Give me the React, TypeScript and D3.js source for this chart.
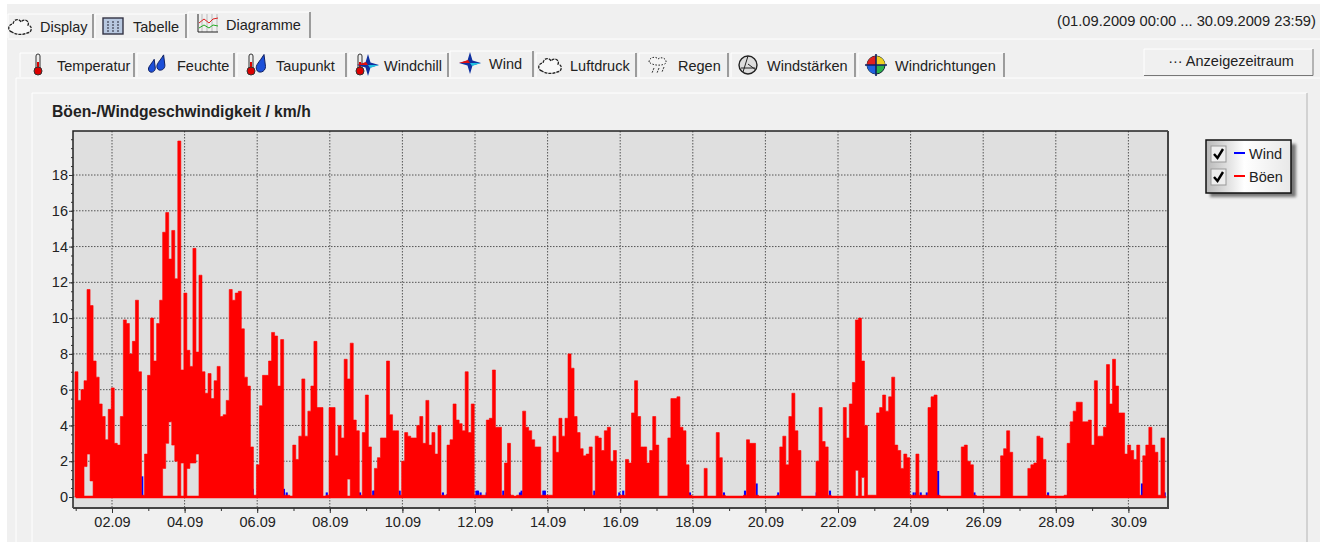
import React, { useEffect, useRef } from 'react';
import * as d3 from 'd3';

// gust per 2 hour block, one row per day of September 2009
const boeen: number[] = [
  7, 5.4, 6, 6.5, 11.6, 10.7, 7.6, 6.7, 5.2, 4.5, 3.2, 4.9,
  6.1, 3, 2.9, 4.5, 9.9, 9.7, 8, 8.7, 11, 7, 0.1, 2.4,
  6.8, 10, 7.6, 9.7, 11, 14.8, 15.9, 13.3, 14.9, 12.2, 19.9, 7.1,
  11.4, 8.2, 7.3, 13.9, 8.1, 12.4, 7, 5.8, 6.9, 5.5, 6.5, 7.3,
  4.5, 4.6, 5.4, 11.6, 11, 11.4, 11.5, 9.4, 6.7, 6.2, 2.8, 0.1,
  1.8, 5.1, 6.8, 6.8, 7.6, 9.2, 9, 6.2, 8.8, 0.1, 0.1, 0,
  2.9, 2.1, 3.4, 6.6, 3.4, 4.8, 6.2, 8.7, 5, 5, 0, 0.1,
  5, 5, 2.3, 4, 3.3, 7.7, 6.6, 8.6, 4.3, 3.7, 0.1, 3.6,
  5.7, 2.8, 0.1, 1.6, 2.2, 3.3, 3.3, 7.6, 4.6, 3.7, 3.7, 0.1,
  2, 3.6, 3.4, 3.3, 3.3, 4, 4.5, 3, 5.4, 2.9, 3.6, 2.4,
  4, 0.1, 0.1, 2.9, 3.2, 5.2, 4.3, 4.1, 3.7, 7, 3.6, 5.2,
  0.1, 0.1, 0.1, 0.1, 4.3, 4.4, 7.1, 3.9, 3.9, 0.1, 1.9, 3,
  0.1, 0, 0.1, 0.1, 4.8, 3.9, 3.7, 3.2, 2.8, 2.8, 0.1, 0.1,
  0.1, 0.1, 3.4, 2.5, 4.4, 3.4, 4.4, 8, 7.2, 4.5, 3.6, 2.7,
  2.3, 2.4, 2.8, 0.1, 3.4, 3.3, 2.6, 3.7, 3.9, 2, 2.6, 0,
  0.1, 0.1, 2.1, 1.9, 4.7, 6.5, 4.5, 2.8, 2.8, 1.9, 2.6, 4.5,
  2.9, 0, 0, 0, 3.3, 5.5, 5.5, 5.6, 3.9, 3.7, 1.8, 0.1,
  0, 0, 0, 0, 1.6, 0, 0, 0, 3.6, 2.2, 0.1, 0,
  0, 0, 0, 0, 0, 0.1, 3.2, 3, 3, 0.1, 0, 0,
  0, 0, 0, 0, 0.1, 2.8, 3.4, 1.8, 4.5, 5.8, 3.7, 2.6,
  0, 0, 0, 0, 0, 2, 5, 3.1, 2.8, 0.1, 0, 0,
  0, 0, 5, 3.3, 5.2, 6.4, 9.9, 10, 7.6, 4, 0.1, 0.1,
  0.1, 4.7, 5, 5.7, 4.8, 5.6, 6.7, 2.9, 2.6, 1.6, 2.4, 2.2,
  0.1, 0.1, 2.4, 0.1, 0.1, 0.1, 5, 5.6, 5.7, 0.1, 0, 0,
  0, 0, 0, 0, 0, 2.8, 2.9, 2, 1.8, 0.1, 0, 0,
  0, 0, 0, 0, 0, 0, 2.3, 2.7, 3.7, 2.5, 0, 0,
  0, 0, 0, 1.6, 1.8, 1.9, 3.4, 3.3, 2.1, 0.1, 0, 0,
  0, 0, 0, 0.1, 3, 4.2, 4.8, 5.3, 5.3, 4.2, 4.2, 4.3,
  2.9, 6.5, 3.4, 3.4, 3.9, 7.4, 5.2, 7.7, 6.2, 4.7, 4.7, 2.4,
  2.9, 2.6, 2.1, 2.9, 0.1, 2.3, 2.9, 3.9, 2.9, 2.5, 0.1, 3.3,
];

// blocks where the red column does not reach the zero line: [block, lower value]
const boeenUnten: [number, number][] = [
  [3, 1.7], [4, 2.4], [5, 0.9], [29, 1.6], [30, 3], [31, 4.2], [32, 2.9], [33, 2],
  [35, 1.9], [37, 1.6], [38, 1.9], [39, 1.9], [40, 2.4], [90, 1], [258, 1.5], [260, 1.1],
];

// wind shows only where it sticks out of the gust columns: [hour, low, high]
const wind: [number, number, number][] = [
  [10.8, 2.3, 2.5], [11.7, 0.9, 1.7], [44, 0, 1.1], [62, 4.2, 4.7], [71.8, 2, 2.7], [79.3, 2.4, 3],
  [117, 0, 0.4], [137.7, 0, 0.4], [139.5, 0, 0.2], [147.6, 0, 0.4], [162.8, 0, 0.4], [166, 0, 0.2],
  [173.8, 0, 0.4], [181.8, 1, 1.7], [188, 0, 0.2], [196.7, 0, 0.3], [197.5, 0, 0.3], [214.2, 0, 0.3],
  [237.5, 0, 0.3], [242.8, 0, 0.2], [245.7, 0, 0.1], [265, 0, 0.3], [266, 0, 0.3], [267.7, 0, 0.2],
  [271.7, 0, 0.2], [282.7, 0, 0.3], [287, 0, 0.1], [293.7, 0, 0.2], [294.8, 0, 0.3], [309.2, 0, 0.3],
  [310.2, 0, 0.3], [318.6, 0, 0.2], [342.9, 0, 0.3], [359.4, 0, 0.2], [362, 0, 0.3], [379, 0, 1.1],
  [406.1, 0, 0.2], [428.6, 0, 0.2], [442.5, 0, 0.3], [450.2, 0, 0.7], [464.5, 0, 0.2], [489.9, 0, 0.2],
  [498.7, 0, 0.3], [516.8, 1.5, 1.7], [520.3, 1.1, 1.6], [530.5, 0, 0.2], [547.5, 0, 0.5], [554, 0, 0.2],
  [555.5, 0, 0.2], [558.7, 0, 0.2], [562.7, 0, 0.2], [570.2, 0, 1.4], [590.7, 0, 0.9], [594.2, 0, 0.2],
  [642.9, 0, 0.2], [656.3, 0, 0.3], [705, 0, 0.7], [720, 0, 0.2],
];

const dayLabels = ['02.09', '04.09', '06.09', '08.09', '10.09', '12.09', '14.09', '16.09', '18.09', '20.09', '22.09', '24.09', '26.09', '28.09', '30.09'];
const valueTicks = [0, 2, 4, 6, 8, 10, 12, 14, 16, 18];

const topTabs = [
  { label: 'Display', icon: 'cloud', ix: 20, tx: 40, x0: 8, x1: 93 },
  { label: 'Tabelle', icon: 'table', ix: 113, tx: 133, x0: 95, x1: 186 },
  { label: 'Diagramme', icon: 'chart', ix: 208, tx: 226, x0: 188, x1: 310, active: true },
];
const subTabs = [
  { label: 'Temperatur', icon: 'thermo', ix: 38, tx: 57, x0: 20, x1: 134 },
  { label: 'Feuchte', icon: 'drops', ix: 157, tx: 177, x0: 137, x1: 234 },
  { label: 'Taupunkt', icon: 'thermodrop', ix: 257, tx: 276, x0: 237, x1: 346 },
  { label: 'Windchill', icon: 'thermostar', ix: 365, tx: 384, x0: 349, x1: 448 },
  { label: 'Wind', icon: 'star', ix: 470, tx: 489, x0: 450, x1: 533, active: true },
  { label: 'Luftdruck', icon: 'cloud', ix: 550, tx: 570, x0: 536, x1: 636 },
  { label: 'Regen', icon: 'rain', ix: 658, tx: 678, x0: 639, x1: 728 },
  { label: 'Windstärken', icon: 'gauge', ix: 748, tx: 767, x0: 731, x1: 855 },
  { label: 'Windrichtungen', icon: 'globe', ix: 876, tx: 895, x0: 858, x1: 1004 },
];

const FONT = '"Liberation Sans", Arial, sans-serif';
const TEXT_SIZE = 14.5;

const drawIcon = (g: any, kind: string, cx: number, cy: number) => {
  const i = g.append('g').attr('transform', `translate(${cx},${cy})`);
  const thermo = (dx: number) => {
    i.append('rect').attr('x', dx - 2).attr('y', -11).attr('width', 4).attr('height', 16).attr('rx', 2).attr('fill', '#eee').attr('stroke', '#333');
    i.append('rect').attr('x', dx - 1).attr('y', -3).attr('width', 2).attr('height', 8).attr('fill', '#d00');
    i.append('circle').attr('cx', dx).attr('cy', 6).attr('r', 4).attr('fill', '#d00').attr('stroke', '#333');
  };
  const drop = (dx: number, dy: number, s: number) => {
    i.append('path')
      .attr('d', `M${dx + 2 * s},${dy - 7 * s} C${dx - 1 * s},${dy - 2 * s} ${dx - 4 * s},${dy} ${dx - 3 * s},${dy + 3 * s} C${dx - 2 * s},${dy + 6 * s} ${dx + 3 * s},${dy + 5 * s} ${dx + 3 * s},${dy + 1 * s} Z`)
      .attr('fill', '#1c4fd8').attr('stroke', '#102060').attr('stroke-width', 1);
  };
  const star = (dx: number) => {
    i.append('path').attr('d', `M${dx},-11 L${dx + 2.5},-2.5 L${dx + 11},0 L${dx + 2.5},2.5 L${dx},11 L${dx - 2.5},2.5 L${dx - 11},0 L${dx - 2.5},-2.5 Z`).attr('fill', '#1030a0');
    i.append('path').attr('d', `M${dx - 11},0 L${dx - 2},-3 L${dx},0 Z`).attr('fill', '#e01010');
    i.append('path').attr('d', `M${dx + 11},0 L${dx + 2},3 L${dx},0 Z`).attr('fill', '#20c0e0');
  };
  if (kind === 'cloud') {
    i.append('path').attr('d', 'M-8,6 C-13,5 -12,-2 -7,-2 C-6,-8 0,-7 1,-4 C4,-8 10,-5 8,-1 C13,0 12,7 7,7 C3,9 -4,9 -8,6 Z')
      .attr('fill', '#f8f8f8').attr('stroke', '#222').attr('stroke-width', 1.3).attr('stroke-dasharray', '3 1');
  } else if (kind === 'table') {
    i.append('rect').attr('x', -10).attr('y', -8).attr('width', 20).attr('height', 16).attr('fill', '#b8c8e0').attr('stroke', '#334').attr('stroke-width', 1.4);
    [-5, 0, 5].forEach(dx => i.append('line').attr('x1', dx).attr('x2', dx).attr('y1', -5).attr('y2', 7).attr('stroke', '#223').attr('stroke-dasharray', '2 1'));
  } else if (kind === 'chart') {
    [-6, -1, 4, 9].forEach(dx => i.append('line').attr('x1', dx).attr('x2', dx).attr('y1', -10).attr('y2', 8).attr('stroke', '#bbb'));
    i.append('path').attr('d', 'M-10,8 H10 M-10,-10 V8').attr('stroke', '#222').attr('fill', 'none');
    i.append('path').attr('d', 'M-9,-1 L-4,-5 L1,-1 L5,-5 L10,-6').attr('stroke', '#d22').attr('fill', 'none');
    i.append('path').attr('d', 'M-9,4 L-4,1 L1,4 L5,1 L10,2').attr('stroke', '#2a2').attr('fill', 'none');
  } else if (kind === 'thermo') {
    thermo(0);
  } else if (kind === 'drops') {
    drop(-5, 2, 1.1);
    drop(4, -1, 1.3);
  } else if (kind === 'thermodrop') {
    thermo(-6);
    drop(4, 0, 1.5);
  } else if (kind === 'thermostar') {
    thermo(-5);
    star(3);
  } else if (kind === 'star') {
    star(0);
  } else if (kind === 'rain') {
    i.append('path').attr('d', 'M-9,-3 C-9,-8 -2,-9 0,-6 C4,-9 9,-6 8,-2 C5,1 -5,1 -9,-3 Z').attr('fill', '#f4f4f4').attr('stroke', '#222').attr('stroke-dasharray', '1.5 1.5');
    i.append('path').attr('d', 'M-4,3 L-6,8 M1,3 L-1,8 M6,2 L4,7').attr('stroke', '#333').attr('stroke-dasharray', '2 1');
  } else if (kind === 'gauge') {
    i.append('circle').attr('r', 9).attr('fill', '#ddd').attr('stroke', '#222').attr('stroke-width', 1.4);
    i.append('path').attr('d', 'M0,-9 L-5,7 M0,-1 L8,5 M-7,3 L7,3').attr('stroke', '#222').attr('fill', 'none');
  } else if (kind === 'globe') {
    i.append('circle').attr('r', 9).attr('fill', '#2bb24a').attr('stroke', '#123');
    i.append('path').attr('d', 'M0,0 L0,-9 A9,9 0 0 1 9,0 Z').attr('fill', '#f0d020');
    i.append('path').attr('d', 'M0,0 L-9,0 A9,9 0 0 1 0,-9 Z').attr('fill', '#e02020');
    i.append('path').attr('d', 'M0,0 L0,9 A9,9 0 0 1 -9,0 Z').attr('fill', '#2060e0');
    i.append('path').attr('d', 'M-11,0 H11 M0,-11 V11').attr('stroke', '#102060').attr('stroke-width', 1.6);
  }
};

const App = () => {
  const ref = useRef<SVGSVGElement>(null);

  useEffect(() => {
    const svg = d3.select(ref.current);
    svg.selectAll('*').remove();

    const x = d3.scaleLinear().domain([0, 720]).range([75.7, 1164.7]);
    const y = d3.scaleLinear().domain([0, 18]).range([497, 175]);
    const left = 73;
    const right = 1168;
    const top = 131;
    const bottom = 508;

    svg.append('rect').attr('width', 1320).attr('height', 542).attr('fill', '#f0f0f0');
    svg.append('rect').attr('width', 1320).attr('height', 4).attr('fill', '#fff');
    svg.append('rect').attr('width', 7).attr('height', 542).attr('fill', '#fff');

    // strips and panels
    svg.append('line').attr('x1', 8).attr('x2', 1320).attr('y1', 39).attr('y2', 39).attr('stroke', '#fff');
    svg.append('line').attr('x1', 16).attr('x2', 1320).attr('y1', 78).attr('y2', 78).attr('stroke', '#fff');
    svg.append('line').attr('x1', 16).attr('x2', 16).attr('y1', 78).attr('y2', 542).attr('stroke', '#fff');
    svg.append('path').attr('d', 'M32,542 V93 H1307').attr('fill', 'none').attr('stroke', '#fff');
    svg.append('path').attr('d', 'M1307,93 V542').attr('fill', 'none').attr('stroke', '#b4b4b4');

    const drawTabs = (tabs: any[], bottomY: number, topY: number) => {
      tabs.forEach(t => {
        const g = svg.append('g');
        const tabTop = t.active ? topY - 2 : topY;
        g.append('path').attr('d', `M${t.x0},${bottomY} V${tabTop} H${t.x1}`).attr('fill', 'none').attr('stroke', '#fff');
        g.append('path').attr('d', `M${t.x1},${tabTop} V${bottomY}`).attr('fill', 'none').attr('stroke', '#777').attr('stroke-width', 1.4);
        drawIcon(g, t.icon, t.ix, (topY + bottomY) / 2 + (t.active ? -2 : 0));
        g.append('text').attr('x', t.tx).attr('y', (topY + bottomY) / 2 + (t.active ? 4 : 6))
          .attr('font-family', FONT).attr('font-size', TEXT_SIZE).attr('fill', '#222').text(t.label);
      });
    };
    drawTabs(topTabs, 38, 14);
    drawTabs(subTabs, 77, 53);

    svg.append('text').attr('x', 1057).attr('y', 26).attr('font-family', FONT).attr('font-size', 14.7).attr('fill', '#222')
      .text('(01.09.2009 00:00 ... 30.09.2009 23:59)');

    svg.append('rect').attr('x', 1144).attr('y', 49).attr('width', 169).attr('height', 26).attr('fill', '#f0f0f0');
    svg.append('path').attr('d', 'M1144,75 V49 H1313').attr('fill', 'none').attr('stroke', '#fff');
    svg.append('path').attr('d', 'M1144,75.5 H1313 V49').attr('fill', 'none').attr('stroke', '#777');
    svg.append('text').attr('x', 1231).attr('y', 66).attr('text-anchor', 'middle').attr('font-family', FONT).attr('font-size', TEXT_SIZE).attr('fill', '#222')
      .text('··· Anzeigezeitraum');

    svg.append('text').attr('x', 52).attr('y', 117).attr('font-family', FONT).attr('font-size', 15.7).attr('font-weight', 'bold').attr('fill', '#222')
      .text('Böen-/Windgeschwindigkeit / km/h');

    // plot area
    svg.append('rect').attr('x', left).attr('y', top).attr('width', right - left).attr('height', bottom - top).attr('fill', '#dfdfdf');

    const plot = svg.append('g');
    const majorDays = dayLabels.map((_, i) => 24 + i * 48);
    plot.selectAll('.vgrid').data(majorDays).enter().append('line').attr('class', 'vgrid')
      .attr('x1', d => x(d)).attr('x2', d => x(d)).attr('y1', top).attr('y2', bottom)
      .attr('stroke', '#555').attr('stroke-dasharray', '1.5 1.5');
    plot.selectAll('.hgrid').data(valueTicks).enter().append('line').attr('class', 'hgrid')
      .attr('x1', left).attr('x2', right).attr('y1', d => y(d)).attr('y2', d => y(d))
      .attr('stroke', '#555').attr('stroke-dasharray', '1.5 1.5');

    const hourW = x(1) - x(0);

    plot.selectAll('.wind').data(wind).enter().append('rect').attr('class', 'wind')
      .attr('x', d => x(d[0]) - hourW * 0.7).attr('width', hourW * 1.4)
      .attr('y', d => y(d[2]) - 1).attr('height', d => y(d[1]) - y(d[2]) + 1)
      .attr('fill', '#0000ff');

    // one step area, so neighbouring columns share their edges
    const lower = new Map(boeenUnten);
    const steps = boeen.map((v, i) => ({ hour: i * 2 - 0.5, v, low: lower.get(i) ?? 0 }));
    steps.push({ hour: boeen.length * 2, v: boeen[boeen.length - 1], low: 0 });
    const area = d3.area<{ hour: number; v: number; low: number }>()
      .x(d => x(d.hour))
      .y0(d => y(d.low))
      .y1(d => y(d.v))
      .curve(d3.curveStepAfter);
    plot.append('path').attr('d', area(steps)).attr('fill', '#ff0000').attr('stroke', '#ff0000').attr('stroke-width', 0.6);

    // zero line of the gust series
    plot.append('line').attr('x1', x(0)).attr('x2', x(720) + 1).attr('y1', y(0)).attr('y2', y(0))
      .attr('stroke', '#ff0000').attr('stroke-width', 2.5);

    // frame
    svg.append('path').attr('d', `M${left},${bottom} V${top} H${right}`).attr('fill', 'none').attr('stroke', '#222').attr('stroke-width', 1.5);
    svg.append('path').attr('d', `M${left},${bottom} H${right} V${top}`).attr('fill', 'none').attr('stroke', '#444').attr('stroke-width', 2);

    // axes
    const xMinor = d3.axisBottom(x).tickValues(d3.range(0, 30).map(d => d * 24)).tickSize(3).tickFormat(() => '');
    svg.append('g').attr('transform', `translate(0,${bottom})`).call(xMinor as any)
      .call((g: any) => { g.select('.domain').remove(); g.selectAll('line').attr('stroke', '#333'); });
    const xMajor = d3.axisBottom(x).tickValues(majorDays).tickSize(5).tickPadding(4)
      .tickFormat((_, i) => dayLabels[i]);
    svg.append('g').attr('transform', `translate(0,${bottom})`).call(xMajor as any)
      .call((g: any) => {
        g.select('.domain').remove();
        g.selectAll('line').attr('stroke', '#333');
        g.selectAll('text').attr('font-family', FONT).attr('font-size', TEXT_SIZE).attr('fill', '#222');
      });

    const yMinor = d3.axisLeft(y).tickValues(d3.range(0, 20.5, 0.5)).tickSize(2).tickFormat(() => '');
    svg.append('g').attr('transform', `translate(${left},0)`).call(yMinor as any)
      .call((g: any) => { g.select('.domain').remove(); g.selectAll('line').attr('stroke', '#333'); });
    const yMajor = d3.axisLeft(y).tickValues(valueTicks).tickSize(4).tickPadding(1);
    svg.append('g').attr('transform', `translate(${left},0)`).call(yMajor as any)
      .call((g: any) => {
        g.select('.domain').remove();
        g.selectAll('line').attr('stroke', '#333');
        g.selectAll('text').attr('font-family', FONT).attr('font-size', TEXT_SIZE).attr('fill', '#222');
      });

    // legend
    const defs = svg.append('defs');
    const grad = defs.append('linearGradient').attr('id', 'legendBg').attr('x1', 0).attr('x2', 1).attr('y1', 0).attr('y2', 0);
    grad.append('stop').attr('offset', '0%').attr('stop-color', '#b8b8b8');
    grad.append('stop').attr('offset', '45%').attr('stop-color', '#fff');
    grad.append('stop').attr('offset', '100%').attr('stop-color', '#e8e8e8');
    const blur = defs.append('filter').attr('id', 'legendShadow');
    blur.append('feGaussianBlur').attr('stdDeviation', 1.5);

    svg.append('rect').attr('x', 1210).attr('y', 144).attr('width', 86).attr('height', 53).attr('fill', '#777').attr('filter', 'url(#legendShadow)');
    svg.append('rect').attr('x', 1206).attr('y', 140).attr('width', 85).attr('height', 53).attr('fill', 'url(#legendBg)').attr('stroke', '#111').attr('stroke-width', 1.5);

    const legend = svg.append('g').selectAll('g').data(['Wind', 'Böen']).enter().append('g')
      .attr('transform', (_, i) => `translate(1211,${146 + i * 23})`);
    legend.append('rect').attr('width', 15).attr('height', 16).attr('fill', '#eee').attr('stroke', '#999');
    legend.append('path').attr('d', 'M3,8 L6.5,12 L12,3').attr('fill', 'none').attr('stroke', '#000').attr('stroke-width', 2.4);
    legend.append('line').attr('x1', 23).attr('x2', 34).attr('y1', 7).attr('y2', 7).attr('stroke', (_, i) => (i === 0 ? '#0000ff' : '#ff0000')).attr('stroke-width', 2);
    legend.append('text').attr('x', 38).attr('y', 13).attr('font-family', FONT).attr('font-size', TEXT_SIZE).attr('fill', '#222').text(d => d);
  }, []);

  return <svg ref={ref} width={1320} height={542} style={{ position: 'absolute', left: 0, top: 0, display: 'block' }} />;
};

export default App;
